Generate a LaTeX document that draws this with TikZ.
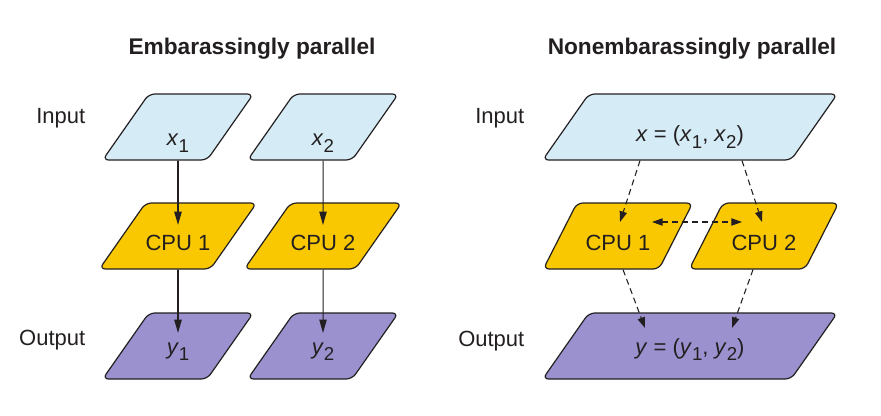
\documentclass[tikz,border=0pt]{standalone}
\usepackage{fontspec}
\setmainfont{Liberation Sans}
\usetikzlibrary{shapes.geometric, positioning, arrows.meta, calc}
\definecolor{inblue}{HTML}{D5EBF6}
\definecolor{cpuyellow}{HTML}{FAC800}
\definecolor{outpurple}{HTML}{9B91CF}
\definecolor{edge}{HTML}{231F20}
\newcommand{\varsub}[2]{\textit{#1}\raisebox{-0.3em}{\fontsize{14}{14}\selectfont #2}}
\newcommand{\drop}[2]{\raisebox{-#1}{#2}}
\tikzset{every node/.style={font=\fontsize{16.5}{20}\selectfont, text=edge},
         slab/.style={trapezium, trapezium stretches body, draw=edge, line width=0.9pt,
                      trapezium left angle=55, trapezium right angle=125, rounded corners=4.5pt,
                      minimum width=113pt, text height=12pt, text depth=4pt,
                      inner xsep=0pt, inner ysep=16.75pt},
         wide/.style={slab, minimum width=221pt},
         steep/.style={slab, trapezium left angle=63, trapezium right angle=117, minimum width=112pt},
         lbl/.style={anchor=base east},
         ttl/.style={anchor=base, font=\fontsize{17}{20}\selectfont\bfseries},
         flow/.style={-{Triangle[length=10pt,width=5.5pt]}, draw=edge, line width=0.75pt},
         heavy/.style={flow, line width=1.25pt},
         dflow/.style={-{Triangle[length=8pt,width=5.5pt]}, draw=edge, line width=0.8pt, dash pattern=on 4.5pt off 3pt},
        }

\begin{document}
\begin{tikzpicture}[x=0.75pt, y=-0.75pt]
        \useasboundingbox (0,0) rectangle (881,415);
        % titles
        \node[ttl](t1)at(252,54){Embarassingly parallel};
        \node[ttl](t2)at(692,54){Nonembarassingly parallel};
        % row labels
        \node[lbl](in1)at(90,123){Input};
        \node[lbl](out1)at(90,345){Output};
        \node[lbl](in2)at(529,123){Input};
        \node[lbl](out2)at(529,346){Output};
        % left: independent columns
        \node[slab, fill=inblue](x1)at(178,127){\drop{10pt}{\varsub{x}{1}}};
        \node[slab, fill=inblue](x2)at(323,127){\drop{10pt}{\varsub{x}{2}}};
        \node[slab, fill=cpuyellow](c1)at(178,236){\drop{7pt}{CPU 1}};
        \node[slab, fill=cpuyellow](c2)at(323,236){\drop{7pt}{CPU 2}};
        \node[slab, fill=outpurple](y1)at(178,346){\drop{2pt}{\varsub{y}{1}}};
        \node[slab, fill=outpurple](y2)at(323,346){\drop{2pt}{\varsub{y}{2}}};
        \draw[heavy](x1)--($(c1.center)+(0,-11)$);
        \draw[heavy](c1)--($(y1.center)+(0,-13)$);
        \draw[flow](x2)--($(c2.center)+(0,-11)$);
        \draw[flow](c2)--($(y2.center)+(0,-13)$);
        % right: shared input and output
        \node[wide, fill=inblue](xin)at(690,127){\drop{7pt}{\textit{x} = (\varsub{x}{1}, \varsub{x}{2})}};
        \node[steep, fill=cpuyellow](rc1)at(618,236){\drop{7pt}{CPU 1}};
        \node[steep, fill=cpuyellow](rc2)at(764,236){\drop{7pt}{CPU 2}};
        \node[wide, fill=outpurple](yout)at(690,346){\drop{2pt}{\textit{y} = (\varsub{y}{1}, \varsub{y}{2})}};
        \draw[dflow]($(xin.south)+(-50,0)$)--($(rc1.center)+(2,-14)$);
        \draw[dflow]($(xin.south)+(52,0)$)--($(rc2.center)+(-2,-14)$);
        \draw[dflow, {Triangle[length=8pt,width=5.5pt]}-{Triangle[length=8pt,width=5.5pt]}]($(rc1.center)+(34,-14)$)--($(rc2.center)+(-22,-14)$);
        \draw[dflow]($(rc1.south)+(5,0)$)--($(yout.center)+(-45,-18)$);
        \draw[dflow]($(rc2.south)+(-11,0)$)--($(yout.center)+(42,-18)$);
    \end{tikzpicture}
\end{document}
